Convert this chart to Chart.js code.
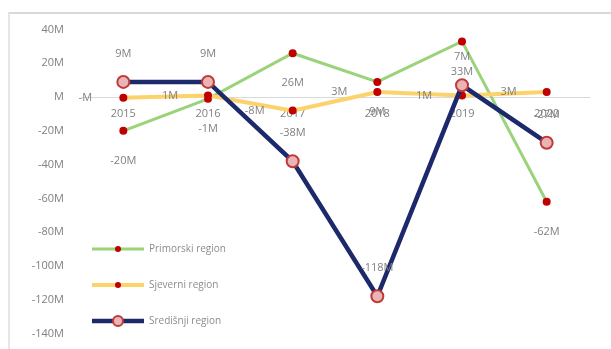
<!DOCTYPE html>
<html>
<head>
<meta charset="utf-8">
<script src="https://cdn.jsdelivr.net/npm/chart.js@4/dist/chart.umd.min.js"></script>
<style>
  html, body { margin: 0; padding: 0; background: #fff; }
  .frame {
    position: absolute; left: 8px; top: 12px; width: 603px; height: 337px;
    border-top: 2px solid #d9d9d9; border-left: 2px solid #e6e6e6; box-sizing: border-box;
  }
  canvas { display: block; }
</style>
</head>
<body>
<div class="frame"><canvas id="chart" width="601" height="335"></canvas></div>
<script>
const years = ['2015', '2016', '2017', '2018', '2019', '2020'];
// values in millions
const primorski = [-20, -1, 26, 9, 33, -62];
const sjeverni = [-0.4, 1, -8, 3, 1, 3];
const sredisnji = [9, 9, -38, -118, 7, -27];
const seriesNames = ['Primorski region', 'Sjeverni region', 'Središnji region'];
const yTicks = [40, 20, 0, -20, -40, -60, -80, -100, -120, -140];

const fmt = (v) => {
  const r = Math.round(v);
  return (v < 0 ? '-' : '') + (r === 0 ? '' : Math.abs(r)) + 'M';
};

const FAMILY = '"Open Sans", "Liberation Sans", sans-serif';
const FONT = '11px ' + FAMILY;
const GREY = '#808080';

// where each series puts its value labels, relative to the point
const labelOffsets = [
  { dx: 0, dy: 30 },
  { dx: -38, dy: 0 },
  { dx: 0, dy: -28 },
];

const valueLabels = {
  id: 'valueLabels',
  afterDatasetsDraw(chart) {
    const { ctx } = chart;
    ctx.save();
    ctx.font = FONT;
    ctx.fillStyle = GREY;
    ctx.textAlign = 'center';
    ctx.textBaseline = 'middle';
    chart.data.datasets.forEach((ds, i) => {
      const meta = chart.getDatasetMeta(i);
      meta.data.forEach((pt, j) => {
        const off = labelOffsets[i];
        ctx.fillText(fmt(ds.data[j]), pt.x + off.dx, pt.y + off.dy);
      });
    });
    ctx.restore();
  },
};

// legend drawn inside the plot, lower left
const innerLegend = {
  id: 'innerLegend',
  afterDraw(chart) {
    const { ctx } = chart;
    ctx.save();
    chart.data.datasets.forEach((ds, i) => {
      const y = 235 + i * 36;
      const x0 = 82, x1 = 134;
      ctx.strokeStyle = ds.borderColor;
      ctx.lineWidth = ds.borderWidth;
      ctx.beginPath();
      ctx.moveTo(x0, y);
      ctx.lineTo(x1, y);
      ctx.stroke();
      ctx.beginPath();
      ctx.arc((x0 + x1) / 2, y, ds.pointRadius - 1, 0, Math.PI * 2);
      ctx.fillStyle = ds.pointBackgroundColor;
      ctx.fill();
      if (ds.pointBorderWidth) {
        ctx.lineWidth = ds.pointBorderWidth;
        ctx.strokeStyle = ds.pointBorderColor;
        ctx.stroke();
      }
      ctx.font = '10px ' + FAMILY;
      ctx.fillStyle = '#8c8c8c';
      ctx.textAlign = 'left';
      ctx.textBaseline = 'middle';
      ctx.fillText(ds.label, x1 + 5, y);
    });
    ctx.restore();
  },
};

new Chart(document.getElementById('chart'), {
  type: 'line',
  data: {
    labels: years,
    datasets: [
      {
        label: seriesNames[0], data: primorski,
        borderColor: '#9ad37a', borderWidth: 3,
        pointRadius: 4, pointBackgroundColor: '#c00000', pointBorderWidth: 0,
        order: 3,
      },
      {
        label: seriesNames[1], data: sjeverni,
        borderColor: '#fcd26a', borderWidth: 4,
        pointRadius: 4, pointBackgroundColor: '#c00000', pointBorderWidth: 0,
        order: 2,
      },
      {
        label: seriesNames[2], data: sredisnji,
        borderColor: '#1c2a6b', borderWidth: 4.5,
        pointRadius: 6, pointBackgroundColor: '#e8b4b4', pointBorderColor: '#c0393b', pointBorderWidth: 2,
        order: 1,
      },
    ],
  },
  options: {
    responsive: false,
    animation: false,
    layout: { padding: { top: 11, right: 22, bottom: 6, left: 0 } },
    plugins: { legend: { display: false }, tooltip: { enabled: false } },
    scales: {
      x: {
        position: { y: 0 },
        offset: true,
        grid: { display: false },
        border: { color: '#d9d9d9', width: 1 },
        ticks: { color: GREY, font: { family: FAMILY, size: 11 }, padding: 2 },
      },
      y: {
        min: -140, max: 40,
        afterFit(scale) { scale.width = 71; },
        afterBuildTicks(scale) { scale.ticks = yTicks.map((v) => ({ value: v })); },
        grid: { display: false },
        border: { display: false },
        ticks: {
          color: GREY,
          font: { family: FAMILY, size: 11 },
          callback: (v) => fmt(v),
          padding: 9,
        },
      },
    },
  },
  plugins: [valueLabels, innerLegend],
});
</script>
</body>
</html>
